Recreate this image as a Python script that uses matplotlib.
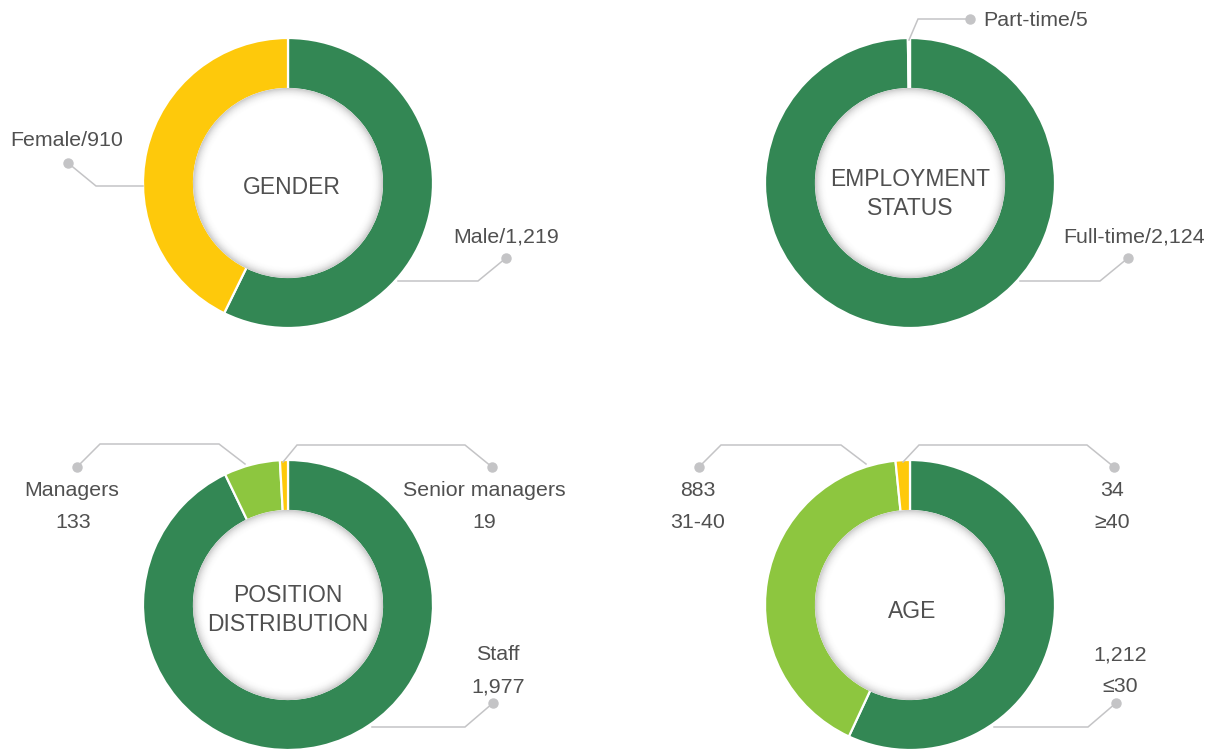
import matplotlib
matplotlib.use('Agg')
import matplotlib.pyplot as plt
from matplotlib.patches import Circle
import numpy as np

# ---------------- data ----------------
gender_labels = ['Male', 'Female']
gender_values = [1219, 910]
employment_labels = ['Full-time', 'Part-time']
employment_values = [2124, 5]
position_labels = ['Staff', 'Managers', 'Senior managers']
position_values = [1977, 133, 19]
age_labels = ['≤30', '31-40', '≥40']
age_values = [1212, 883, 34]

titles = ['GENDER', 'EMPLOYMENT\nSTATUS', 'POSITION\nDISTRIBUTION', 'AGE']

# ---------------- style ----------------
DARK = '#338754'
YELLOW = '#FEC90B'
LIGHT = '#8DC63F'
TXT = '#505050'
LINE = '#c4c4c6'
FONT = ['Liberation Sans', 'DejaVu Sans']
plt.rcParams['font.family'] = FONT

W, H = 1213, 749
fig = plt.figure(figsize=(W / 100, H / 100), dpi=100)
ax = fig.add_axes([0, 0, 1, 1])

R_OUT, R_IN = 145, 95

centers = [(288, 183), (910, 183), (288, 605), (910, 605)]
datasets = [
    (gender_labels, gender_values, [DARK, YELLOW]),
    (employment_labels, employment_values, [DARK, YELLOW]),
    (position_labels, position_values, [DARK, LIGHT, YELLOW]),
    (age_labels, age_values, [DARK, LIGHT, YELLOW]),
]

for (labels, values, colors), c in zip(datasets, centers):
    ax.pie(values, colors=colors, center=c, radius=R_OUT, startangle=-90,
           counterclock=True,
           wedgeprops=dict(width=R_OUT - R_IN + 1, edgecolor='white', linewidth=1.6))
    # inner disc with soft inner shadow
    n = 16
    for i in range(n):
        t = i / (n - 1)
        g = 0.80 + 0.20 * (1 - (1 - t) ** 2.5)
        ax.add_patch(Circle(c, R_IN - i * 0.8, facecolor=(g, g, g), edgecolor='none', zorder=3))
    ax.add_patch(Circle(c, R_IN - n * 0.8, facecolor='white', edgecolor='none', zorder=3))

# center titles
title_pos = [(292, 188), (910, 194), (288, 610), (912, 611)]
for t, (x, y) in zip(titles, title_pos):
    ax.text(x, y, t, ha='center', va='center', fontsize=16.5, color=TXT,
            linespacing=1.3, zorder=5)

FS = 15.4
DY = 2


def label(x, y, s, ha='center'):
    ax.text(x, y + DY, s, ha=ha, va='center', fontsize=FS, color=TXT)


def leader(c, pts):
    xs = [c[0] + p[0] for p in pts]
    ys = [c[1] + p[1] for p in pts]
    ax.plot(xs, ys, color=LINE, lw=1.1, zorder=4, solid_joinstyle='miter')
    ax.plot(xs[-1], ys[-1], 'o', color=LINE, ms=6.5, zorder=4)


# ---- Gender ----
c = centers[0]
leader(c, [(-145, 3), (-192, 3), (-220, -20)])
label(c[0] - 221, c[1] - 45, f'{gender_labels[1]}/{gender_values[1]:,}')
leader(c, [(110, 98), (190, 98), (218, 75)])
label(c[0] + 218, c[1] + 52, f'{gender_labels[0]}/{gender_values[0]:,}')

# ---- Employment ----
c = centers[1]
leader(c, [(-1, -143), (8, -164), (60, -164)])
label(c[0] + 73, c[1] - 164, f'{employment_labels[1]}/{employment_values[1]:,}', ha='left')
leader(c, [(110, 98), (190, 98), (218, 75)])
label(c[0] + 224, c[1] + 52, f'{employment_labels[0]}/{employment_values[0]:,}')

# ---- Position ----
c = centers[2]
leader(c, [(84, 122), (177, 122), (205, 98)])
label(c[0] + 210, c[1] + 48, position_labels[0])
label(c[0] + 210, c[1] + 80, f'{position_values[0]:,}')
leader(c, [(-43, -141), (-69, -161), (-188, -161), (-211, -138)])
label(c[0] - 216, c[1] - 116, position_labels[1])
label(c[0] - 215, c[1] - 85, f'{position_values[1]:,}')
leader(c, [(-5, -143), (9, -160), (177, -160), (204, -138)])
label(c[0] + 196, c[1] - 116, position_labels[2])
label(c[0] + 196, c[1] - 85, f'{position_values[2]:,}')

# ---- Age ----
c = centers[3]
leader(c, [(84, 122), (178, 122), (206, 98)])
label(c[0] + 210, c[1] + 48, f'{age_values[0]:,}')
label(c[0] + 210, c[1] + 80, age_labels[0])
leader(c, [(-44, -141), (-69, -160), (-189, -160), (-211, -138)])
label(c[0] - 212, c[1] - 116, f'{age_values[1]:,}')
label(c[0] - 212, c[1] - 85, age_labels[1])
leader(c, [(-7, -143), (9, -160), (177, -160), (204, -138)])
label(c[0] + 202, c[1] - 116, f'{age_values[2]:,}')
label(c[0] + 202, c[1] - 85, age_labels[2])

ax.set_xlim(0, W)
ax.set_ylim(H, 0)
ax.set_aspect('equal')
ax.set_axis_off()
fig.savefig('out.png', dpi=100, facecolor='white')
